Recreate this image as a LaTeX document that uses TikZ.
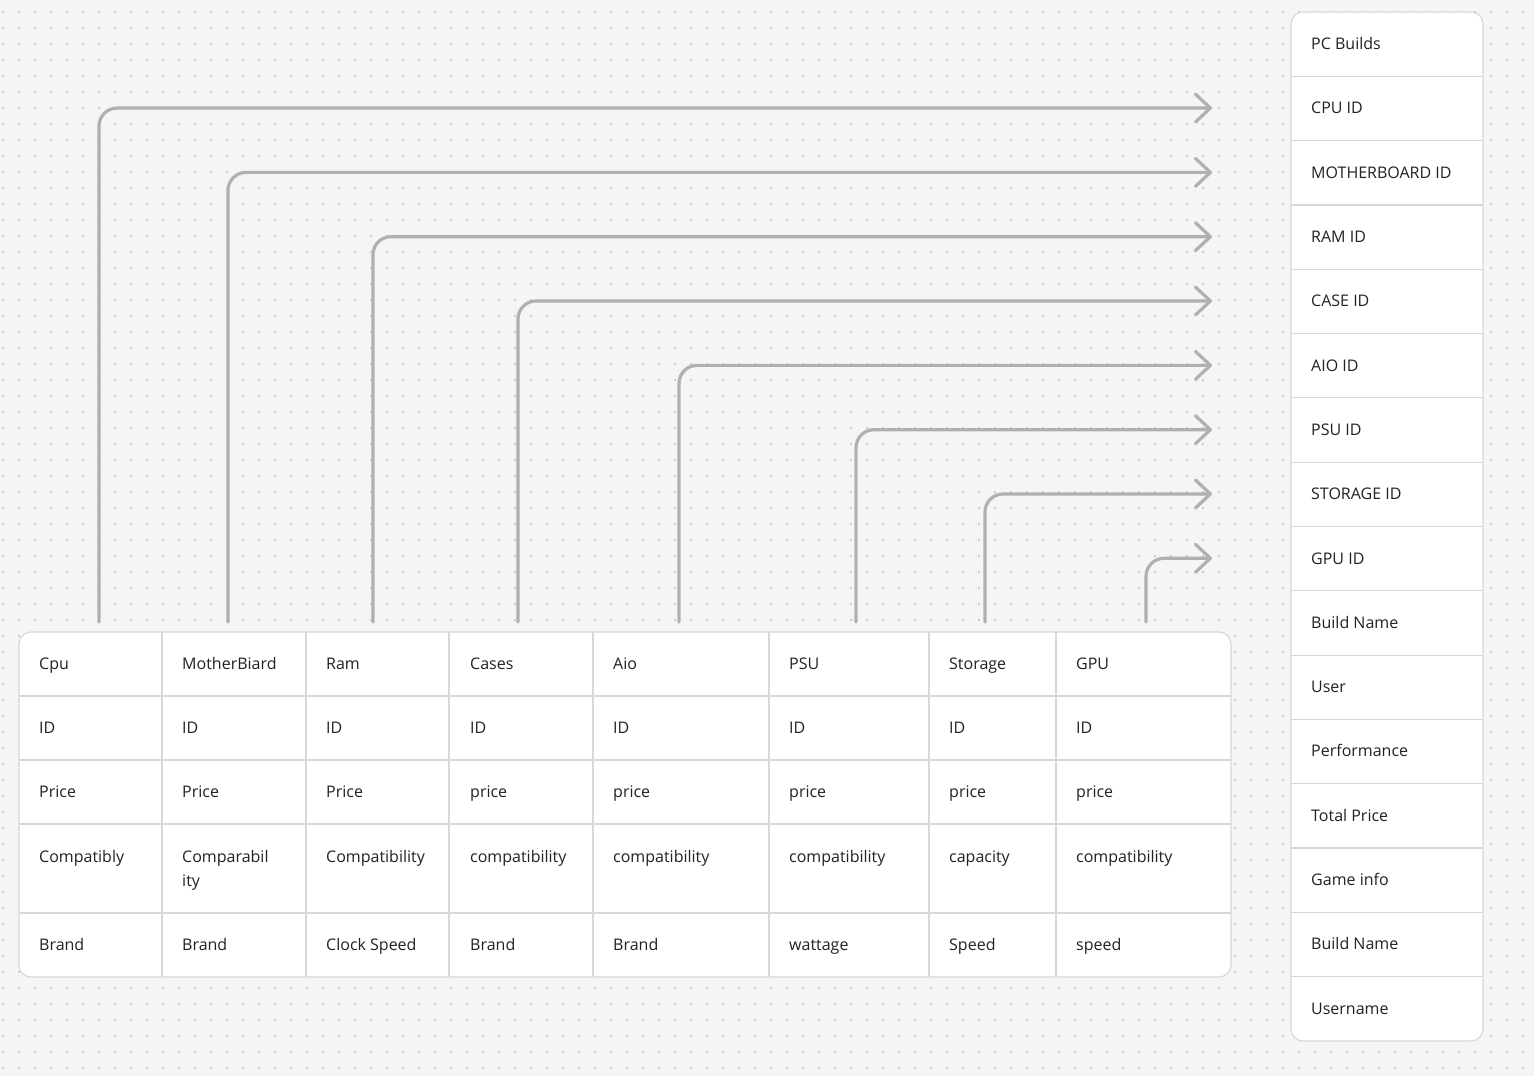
\documentclass[tikz,border=0pt]{standalone}
\usepackage{fontspec}
\newfontfamily\cellfont{Open Sans}
\usetikzlibrary{arrows.meta}
\definecolor{canvas}{RGB}{245,245,245}
\definecolor{griddot}{RGB}{188,188,188}
\definecolor{rule}{RGB}{216,216,216}
\definecolor{ink}{RGB}{34,34,34}
\definecolor{wire}{RGB}{176,176,176}
\tikzset{
  cell/.style={anchor=base west, inner sep=0pt, text=ink, font=\cellfont\fontsize{16}{24}\selectfont},
  box/.style={draw=rule, line width=1.2pt, fill=white, rounded corners=12pt},
  link/.style={draw=wire, line width=3.2pt, line cap=round, line join=round, rounded corners=18pt,
    -{Straight Barb[length=15pt,width=28pt,round]}},
}

\begin{document}
\begin{tikzpicture}[x=1pt,y=-1pt]
\useasboundingbox (0,0) rectangle (1534,1076);
\fill[canvas] (0,0) rectangle (1534,1076);
% dot grid
\foreach \gx in {3,19,...,1534}
  \foreach \gy in {12,28,...,1076}
    \fill[griddot] (\gx,\gy) circle[radius=1.1pt];

% parts table
\draw[box] (19,632) rectangle (1231,977);
\foreach \cx in {162,306,449,593,769,929,1056}
  \draw[rule, line width=1.2pt] (\cx,632) -- (\cx,977);
\foreach \ry in {696,760,824,913}
  \draw[rule, line width=1.2pt] (19,\ry) -- (1231,\ry);

% builds table
\draw[box] (1291,12) rectangle (1483,1041);
\foreach \k in {1,...,15}
  \draw[rule, line width=1.2pt] (1291,{12+64.31*\k}) -- (1483,{12+64.31*\k});

% part headers
\node[cell] (cpu) at (39,669.5) {Cpu};
\node[cell] (mobo) at (182,669.5) {MotherBiard};
\node[cell] (ram) at (326,669.5) {Ram};
\node[cell] (case) at (470,669.5) {Cases};
\node[cell] (aio) at (613,669.5) {Aio};
\node[cell] (psu) at (789,669.5) {PSU};
\node[cell] (storage) at (949,669.5) {Storage};
\node[cell] (gpu) at (1076,669.5) {GPU};

\node[cell] (cpu-id) at (39,733.5) {ID};
\node[cell] (mobo-id) at (182,733.5) {ID};
\node[cell] (ram-id) at (326,733.5) {ID};
\node[cell] (case-id) at (470,733.5) {ID};
\node[cell] (aio-id) at (613,733.5) {ID};
\node[cell] (psu-id) at (789,733.5) {ID};
\node[cell] (storage-id) at (949,733.5) {ID};
\node[cell] (gpu-id) at (1076,733.5) {ID};

\node[cell] (cpu-price) at (39,797.5) {Price};
\node[cell] (mobo-price) at (182,797.5) {Price};
\node[cell] (ram-price) at (326,797.5) {Price};
\node[cell] (case-price) at (470,797.5) {price};
\node[cell] (aio-price) at (613,797.5) {price};
\node[cell] (psu-price) at (789,797.5) {price};
\node[cell] (storage-price) at (949,797.5) {price};
\node[cell] (gpu-price) at (1076,797.5) {price};

\node[cell] (cpu-comp) at (39,862.5) {Compatibly};
\node[cell, align=left] (mobo-comp) at (182,886.5) {Comparabil\\ity};
\node[cell] (ram-comp) at (326,862.5) {Compatibility};
\node[cell] (case-comp) at (470,862.5) {compatibility};
\node[cell] (aio-comp) at (613,862.5) {compatibility};
\node[cell] (psu-comp) at (789,862.5) {compatibility};
\node[cell] (storage-cap) at (949,862.5) {capacity};
\node[cell] (gpu-comp) at (1076,862.5) {compatibility};

\node[cell] (cpu-brand) at (39,950.5) {Brand};
\node[cell] (mobo-brand) at (182,950.5) {Brand};
\node[cell] (ram-clock) at (326,950.5) {Clock Speed};
\node[cell] (case-brand) at (470,950.5) {Brand};
\node[cell] (aio-brand) at (613,950.5) {Brand};
\node[cell] (psu-watt) at (789,950.5) {wattage};
\node[cell] (storage-speed) at (949,950.5) {Speed};
\node[cell] (gpu-speed) at (1076,950.5) {speed};

% build rows
\node[cell] (builds) at (1311,49.5) {PC Builds};
\node[cell] (b-cpu) at (1311,113.8) {CPU ID};
\node[cell] (b-mobo) at (1311,178.1) {MOTHERBOARD ID};
\node[cell] (b-ram) at (1311,242.4) {RAM ID};
\node[cell] (b-case) at (1311,306.7) {CASE ID};
\node[cell] (b-aio) at (1311,371.1) {AIO ID};
\node[cell] (b-psu) at (1311,435.4) {PSU ID};
\node[cell] (b-storage) at (1311,499.7) {STORAGE ID};
\node[cell] (b-gpu) at (1311,564) {GPU ID};
\node[cell] (b-name) at (1311,628.3) {Build Name};
\node[cell] (b-user) at (1311,692.6) {User};
\node[cell] (b-perf) at (1311,756.9) {Performance};
\node[cell] (b-total) at (1311,821.2) {Total Price};
\node[cell] (b-game) at (1311,885.6) {Game info};
\node[cell] (b-name2) at (1311,949.9) {Build Name};
\node[cell] (b-username) at (1311,1014.2) {Username};

% wires
\coordinate (tip) at (1212,0);
\coordinate (cpu-foot) at (99,622);
\coordinate (mobo-foot) at (228,622);
\coordinate (ram-foot) at (373,622);
\coordinate (case-foot) at (518,622);
\coordinate (aio-foot) at (679,622);
\coordinate (psu-foot) at (856,622);
\coordinate (storage-foot) at (985,622);
\coordinate (gpu-foot) at (1146,622);

\draw[link] (cpu-foot) |- (tip |- b-cpu);
\draw[link] (mobo-foot) |- (tip |- b-mobo);
\draw[link] (ram-foot) |- (tip |- b-ram);
\draw[link] (case-foot) |- (tip |- b-case);
\draw[link] (aio-foot) |- (tip |- b-aio);
\draw[link] (psu-foot) |- (tip |- b-psu);
\draw[link] (storage-foot) |- (tip |- b-storage);
\draw[link] (gpu-foot) |- (tip |- b-gpu);
\end{tikzpicture}
\end{document}
